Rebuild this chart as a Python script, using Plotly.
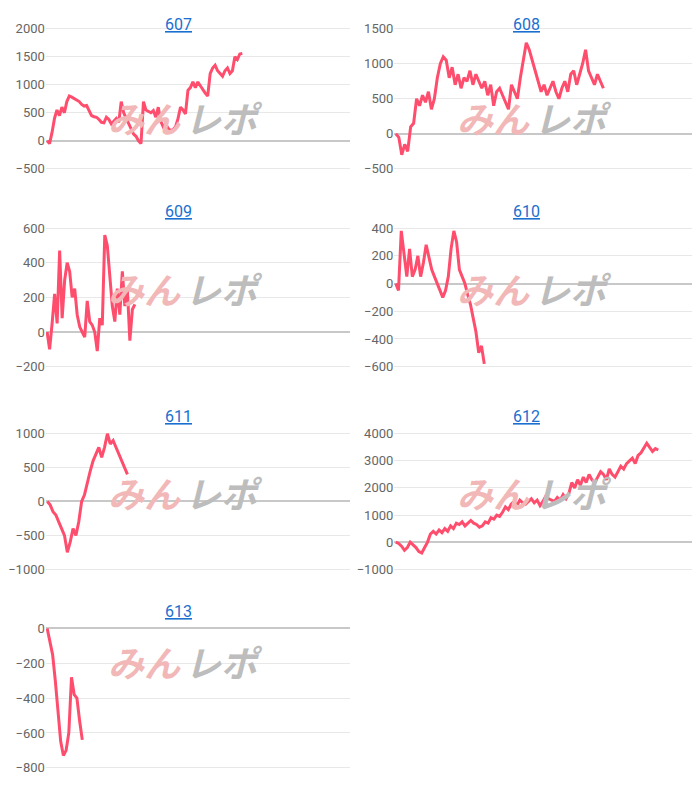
import plotly.graph_objects as go

names = ["607", "608", "609", "610", "611", "612", "613"]

s607 = [0, -50, 150, 400, 550, 450, 600, 500, 700, 800, 780, 750, 720, 700, 650, 620, 630, 550, 450, 430,
        420, 380, 330, 320, 420, 380, 300, 350, 400, 330, 700, 500, 400, 300, 200, 120, 80, 0, -50, 700,
        550, 520, 500, 540, 420, 600, 350, 250, 300, 220, 180, 200, 250, 400, 600, 550, 480, 900, 950, 1050,
        950, 1050, 980, 900, 850, 800, 1200, 1300, 1350, 1250, 1200, 1150, 1250, 1300, 1200, 1250, 1500, 1450, 1550, 1560]
s608 = [0, -50, -300, -150, -250, 100, 150, 500, 400, 550, 450, 600, 350, 500, 800, 1000, 1100, 1050, 800, 950,
        700, 850, 650, 800, 750, 900, 700, 850, 750, 650, 750, 550, 700, 400, 600, 650, 550, 450, 350, 700,
        600, 500, 800, 1050, 1300, 1200, 1050, 900, 750, 600, 700, 550, 650, 750, 600, 500, 650, 750, 600, 850,
        900, 700, 850, 1000, 1200, 900, 800, 700, 850, 750, 650]
s609 = [0, -100, 50, 220, 50, 470, 80, 300, 400, 350, 200, 250, 100, 30, 0, -30, 180, 60, 40, 0,
        -110, 80, 40, 560, 500, 300, 150, 60, 250, 100, 350, 150, 250, -50, 130, 160]
s610 = [0, -50, 380, 200, 50, 250, 50, 100, 200, 50, 150, 280, 200, 100, 50, 0, -50, -100, -50, 50,
        250, 380, 300, 100, 50, 0, -80, -150, -250, -350, -500, -450, -580]
s611 = [0, -50, -150, -200, -300, -400, -500, -750, -600, -400, -500, -300, 0, 100, 300, 450, 600, 700, 800, 650,
        800, 1000, 850, 900, 800, 700, 600, 500, 400]
s612 = [0, -50, -150, -300, -200, 0, -100, -200, -350, -400, -200, 0, 300, 400, 300, 450, 350, 500, 400, 600,
        500, 700, 650, 750, 600, 700, 800, 700, 650, 550, 600, 750, 700, 900, 850, 1000, 950, 1100, 1300, 1200,
        1400, 1500, 1350, 1550, 1450, 1400, 1500, 1600, 1450, 1550, 1350, 1500, 1700, 1600, 1550, 1500, 1650, 1550, 1750, 1600,
        1800, 2200, 2000, 2300, 2100, 2400, 2200, 2500, 2300, 2200, 2400, 2600, 2500, 2300, 2700, 2500, 2400, 2600, 2800, 2700,
        2900, 3000, 3100, 2900, 3200, 3300, 3500, 3650, 3500, 3350, 3450, 3400]
s613 = [0, -80, -150, -300, -500, -650, -730, -700, -600, -280, -380, -400, -530, -640]
series = [s607, s608, s609, s610, s611, s612, s613]

y_ranges = [(-500, 2000, 500), (-500, 1500, 500), (-200, 600, 200), (-600, 400, 200),
            (-1000, 1000, 500), (-1000, 4000, 1000), (-800, 0, 200)]
# share of the x axis each series covers
x_share = [0.645, 0.68, 0.29, 0.29, 0.265, 0.86, 0.116]

col_dom = [(0.050, 0.486), (0.550, 0.990)]
row_dom = [(0.801, 0.983), (0.549, 0.729), (0.291, 0.467), (0.038, 0.219)]
title_x = [0.22, 0.76]

fig = go.Figure()
layout = {}
for i, (name, vals, (lo, hi, step)) in enumerate(zip(names, series, y_ranges)):
    r, c = divmod(i, 2)
    k = "" if i == 0 else str(i + 1)
    n = len(vals)
    fig.add_trace(go.Scatter(x=list(range(n)), y=vals, mode="lines",
                             line=dict(color="#ff4d6d", width=3), xaxis="x" + k, yaxis="y" + k,
                             showlegend=False, hoverinfo="skip"))
    layout["xaxis" + k] = dict(domain=col_dom[c], range=[-0.5, (n - 1) / x_share[i]], showticklabels=False,
                               showgrid=False, zeroline=False, anchor="y" + k)
    pad = (hi - lo) * 0.01
    layout["yaxis" + k] = dict(domain=row_dom[r], range=[lo - pad, hi + pad], dtick=step, tick0=lo,
                               gridcolor="#e8e8e8", zeroline=True, zerolinecolor="#c8c8c8",
                               zerolinewidth=1.5, tickfont=dict(size=13, color="#666"),
                               anchor="x" + k, ticks="")
    x0, x1 = col_dom[c]
    if r == 0:
        ty, ya = 1.0, "top"
    else:
        ty, ya = row_dom[r][1] + 0.02, "middle"
    fig.add_annotation(text="<u>" + name + "</u>", x=title_x[c], y=ty,
                       xref="paper", yref="paper", yanchor=ya, showarrow=False,
                       font=dict(size=16, color="#1a6fcf"), borderpad=0)
    wx = x0 + (x1 - x0) * 0.45
    wy = (row_dom[r][0] + row_dom[r][1]) / 2 + 0.012
    fig.add_annotation(text="<b><i>みん</i></b>", x=wx, y=wy, xanchor="right",
                       xref="paper", yref="paper", showarrow=False,
                       font=dict(size=36, color="#f2b8b8", family="Noto Sans CJK JP"))
    fig.add_annotation(text="<b><i>レポ</i></b>", x=wx, y=wy, xanchor="left",
                       xref="paper", yref="paper", showarrow=False,
                       font=dict(size=36, color="#bdbdbd", family="Noto Sans CJK JP"))

fig.update_layout(width=700, height=797, margin=dict(l=0, r=0, t=0, b=0),
                  plot_bgcolor="white", paper_bgcolor="white",
                  font=dict(family="Roboto, Arial, sans-serif"), **layout)
fig.write_html("out.html")
